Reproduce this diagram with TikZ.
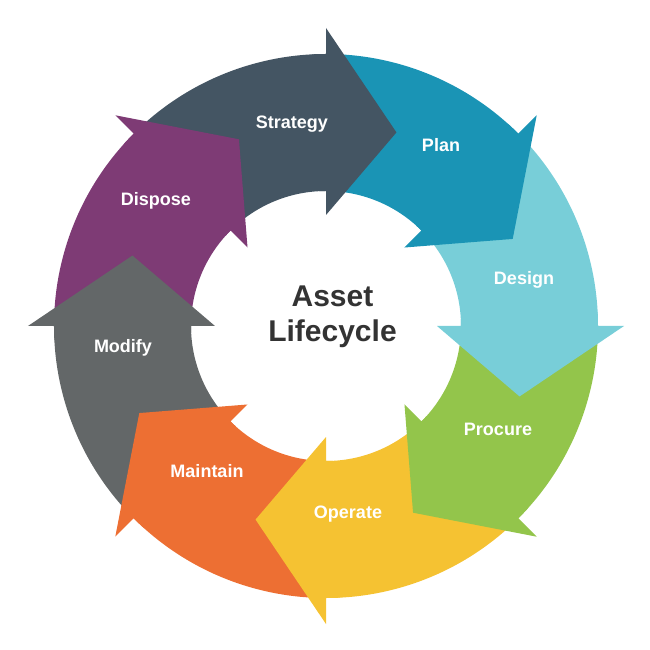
\documentclass[tikz,border=0pt]{standalone}
\usepackage{fontspec}
\setmainfont{Liberation Sans}
\usepackage{tikz}

\definecolor{strategy}{HTML}{445563}
\definecolor{plan}{HTML}{1A94B5}
\definecolor{design}{HTML}{78CED8}
\definecolor{procure}{HTML}{93C54B}
\definecolor{operate}{HTML}{F5C232}
\definecolor{maintain}{HTML}{ED6F33}
\definecolor{modify}{HTML}{636768}
\definecolor{dispose}{HTML}{7E3B75}
\definecolor{titlegray}{HTML}{333333}

\tikzset{
  steplabel/.style={text=white, anchor=base, font=\bfseries\fontsize{18}{20}\selectfont},
  titlelabel/.style={text=titlegray, align=center, font=\bfseries\fontsize{30}{35}\selectfont}
}

\begin{document}
\begin{tikzpicture}[x=1pt,y=1pt]
\useasboundingbox (-326,-324) rectangle (324,326);
\coordinate (o) at (0,0);

% ring bodies, clockwise
\foreach \a/\c in {135/strategy, 90/plan, 45/design, 0/procure, -45/operate, -90/maintain, -135/modify, -180/dispose}{
  \fill[\c] (\a:272) arc[start angle=\a, end angle=\a-45, radius=272]
    -- ({\a-45}:135) arc[start angle=\a-45, end angle=\a, radius=135] -- cycle;
}
% arrow heads on top (with a thin strip of body, so no seam shows)
\foreach \a/\c in {135/strategy, 90/plan, 45/design, 0/procure, -45/operate, -90/maintain, -135/modify, -180/dispose}{
  \fill[\c] ({\a-42}:272) arc[start angle=\a-42, end angle=\a-45, radius=272]
    -- ({\a-45}:298) -- ({\a-65}:206) -- ({\a-45}:111)
    -- ({\a-45}:135) arc[start angle=\a-45, end angle=\a-42, radius=135] -- cycle;
}

\node[steplabel] (strategy) at (-34,197) {Strategy};
\node[steplabel] (plan) at (115,174) {Plan};
\node[steplabel] (design) at (198,41) {Design};
\node[steplabel] (procure) at (172,-109) {Procure};
\node[steplabel] (operate) at (22,-192) {Operate};
\node[steplabel] (maintain) at (-119,-151) {Maintain};
\node[steplabel] (modify) at (-203,-27) {Modify};
\node[steplabel] (dispose) at (-170,120) {Dispose};

\node[titlelabel] (title) at (6.5,9) {Asset\\Lifecycle};
\end{tikzpicture}
\end{document}
